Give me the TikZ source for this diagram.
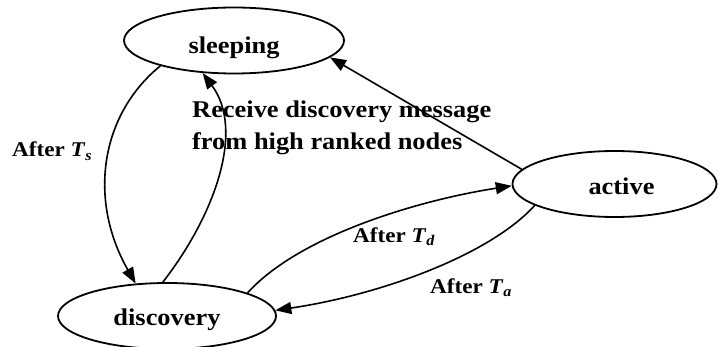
\documentclass[tikz,border=0pt]{standalone}
\usepackage{fontspec}
\setmainfont{Liberation Serif}[FakeStretch=1.1]
\usetikzlibrary{arrows.meta,shapes.geometric}
\begin{document}
\begin{tikzpicture}[x=1pt,y=-1pt,
  state/.style={ellipse,draw,line width=1.8pt,inner sep=0pt,text depth=0pt,
    font=\fontsize{24}{28}\selectfont\bfseries},
  conn/.style={line width=1.6pt,-{Triangle[length=16pt,width=12pt]}},
  lbl/.style={inner sep=0pt,anchor=base west,font=\fontsize{21}{24}\selectfont\bfseries},
  biglbl/.style={inner sep=0pt,anchor=base west,align=left,font=\fontsize{24}{32}\selectfont\bfseries}]
\useasboundingbox (0,0) rectangle (719,347);
\node[state,minimum width=220pt,minimum height=66pt,text height=26pt] (sleeping) at (234,40.5) {sleeping};
\node[state,minimum width=218pt,minimum height=66pt,text height=18pt] (discovery) at (167,316) {discovery};
\node[state,minimum width=204pt,minimum height=66pt,text height=22pt] (active) at (614.5,184) {\hspace*{14pt}active};
\draw[conn] (sleeping.199) .. controls (100,115) and (88,200) .. (discovery.134);
\draw[conn] (discovery.97) .. controls (215,215) and (245,130) .. (sleeping.226);
\draw[conn] (active.171) -- (sleeping.350);
\draw[conn] (discovery.16) .. controls (300,235) and (420,200) .. (active.181);
\draw[conn] (active.195) .. controls (490,255) and (380,295) .. (discovery.3);
\node[lbl] (ts) at (12,157) {After \textit{T}\textsubscript{\textit{s}}};
\node[biglbl] (recv) at (192,150) {Receive discovery message\\from high ranked nodes};
\node[lbl] (td) at (353,242) {After \textit{T}\textsubscript{\textit{d}}};
\node[lbl] (ta) at (430,293) {After \textit{T}\textsubscript{\textit{a}}};
\end{tikzpicture}
\end{document}
